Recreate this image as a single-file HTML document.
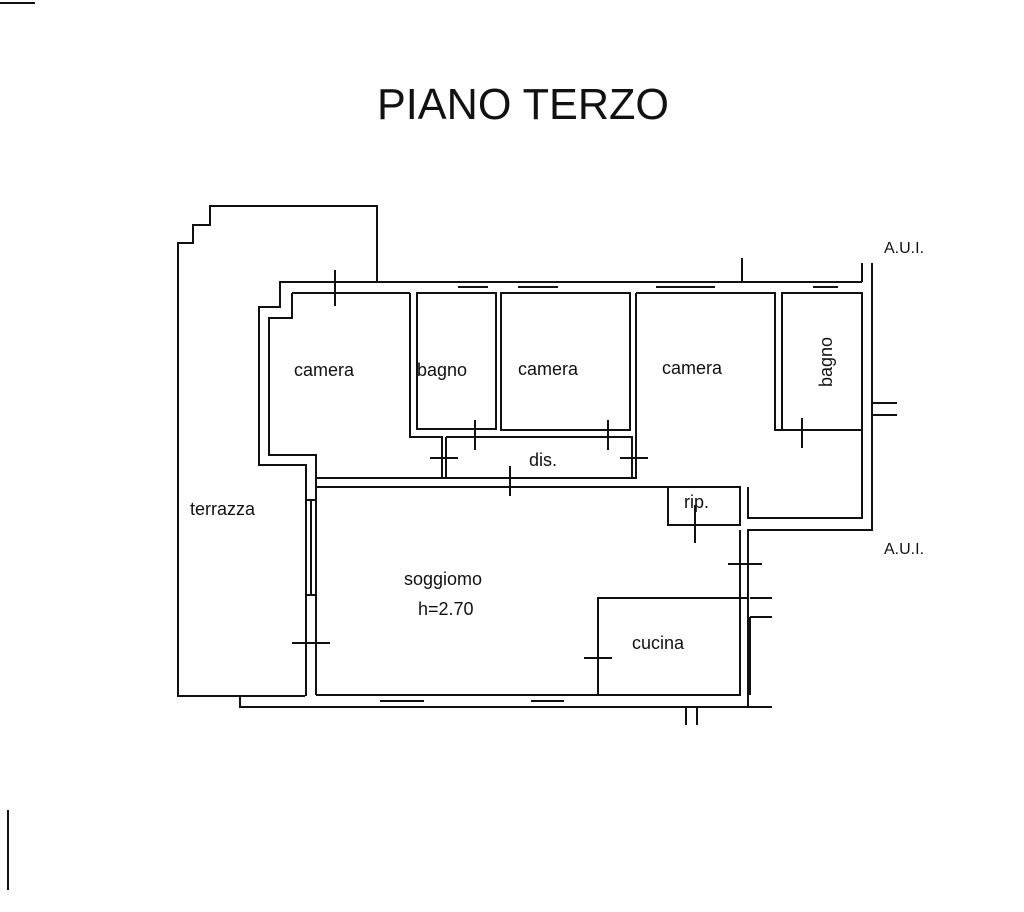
<!DOCTYPE html>
<html><head><style>
body{margin:0;background:#fff;}
svg{display:block}
text{font-family:"Liberation Sans",sans-serif;fill:#111}
</style></head><body>
<svg width="1024" height="912" viewBox="0 0 1024 912" xmlns="http://www.w3.org/2000/svg">
<g stroke="#111" stroke-width="2" fill="none">
<line x1="0" y1="3" x2="35" y2="3"/>
<line x1="8" y1="810" x2="8" y2="890"/>
<polyline points="305,696 178,696 178,243 193,243 193,225 210,225 210,206 377,206 377,282"/>
<polyline points="862,282 280,282 280,307 259,307 259,465 306,465 306,696"/>
<line x1="292" y1="293" x2="410" y2="293"/>
<polyline points="292,293 292,318 269,318 269,455 316,455 316,695"/>
<line x1="306" y1="500" x2="316" y2="500"/><line x1="306" y1="595" x2="316" y2="595"/>
<polyline points="410,293 410,437 442,437 442,478 316,478"/>
<polyline points="316,487 668,487 668,525 740,525 740,487 668,487"/>
<rect x="417" y="293" width="79" height="136"/>
<rect x="501" y="293" width="129" height="137"/>
<polyline points="446,437 632,437 632,478 446,478 446,437"/>
<polyline points="636,293 636,478 442,478"/>
<polyline points="636,293 775,293 775,430 862,430 862,518 748,518 748,487"/>
<rect x="782" y="293" width="80" height="137"/>
<polyline points="862,282 862,263"/><polyline points="872,263 872,282 872,530 748,530 748,598 740,598"/>
<line x1="862" y1="293" x2="862" y2="430"/>
<line x1="872" y1="403" x2="897" y2="403"/><line x1="872" y1="415" x2="897" y2="415"/>
<line x1="740" y1="530" x2="740" y2="598"/>
<polyline points="740,598 598,598 598,695 740,695 740,598"/>
<line x1="316" y1="695" x2="598" y2="695"/>
<line x1="748" y1="598" x2="748" y2="707"/>
<line x1="750" y1="598" x2="772" y2="598"/>
<line x1="750" y1="617" x2="772" y2="617"/><line x1="750" y1="617" x2="750" y2="695"/>
<polyline points="240,696 240,707 772,707"/>
<line x1="686" y1="707" x2="686" y2="725"/><line x1="697" y1="707" x2="697" y2="725"/>
<line x1="380" y1="701" x2="424" y2="701"/><line x1="531" y1="701" x2="564" y2="701"/>
<line x1="458" y1="287" x2="488" y2="287"/><line x1="518" y1="287" x2="558" y2="287"/>
<line x1="656" y1="287" x2="715" y2="287"/><line x1="813" y1="287" x2="838" y2="287"/>
<line x1="311" y1="500" x2="311" y2="595"/>
<line x1="335" y1="270" x2="335" y2="306"/>
<line x1="742" y1="258" x2="742" y2="282"/>
<line x1="430" y1="458" x2="458" y2="458"/>
<line x1="475" y1="420" x2="475" y2="450"/>
<line x1="608" y1="420" x2="608" y2="450"/>
<line x1="620" y1="458" x2="648" y2="458"/>
<line x1="510" y1="466" x2="510" y2="496"/>
<line x1="802" y1="418" x2="802" y2="448"/>
<line x1="695" y1="505" x2="695" y2="543"/>
<line x1="728" y1="564" x2="762" y2="564"/>
<line x1="292" y1="643" x2="330" y2="643"/>
<line x1="584" y1="658" x2="612" y2="658"/>
</g>
<text x="523" y="119" font-size="44" text-anchor="middle" textLength="292" lengthAdjust="spacingAndGlyphs">PIANO TERZO</text>
<g font-size="18">
<text x="294" y="376">camera</text>
<text x="417" y="376">bagno</text>
<text x="518" y="375">camera</text>
<text x="662" y="374">camera</text>
<text x="529" y="466">dis.</text>
<text x="684" y="508">rip.</text>
<text x="190" y="515">terrazza</text>
<text x="404" y="585">soggiomo</text>
<text x="418" y="615">h=2.70</text>
<text x="632" y="649">cucina</text>
<text x="884" y="253" font-size="16">A.U.I.</text>
<text x="884" y="554" font-size="16">A.U.I.</text>
<text transform="translate(832,362) rotate(-90)" text-anchor="middle">bagno</text>
</g>
</svg>
</body></html>
